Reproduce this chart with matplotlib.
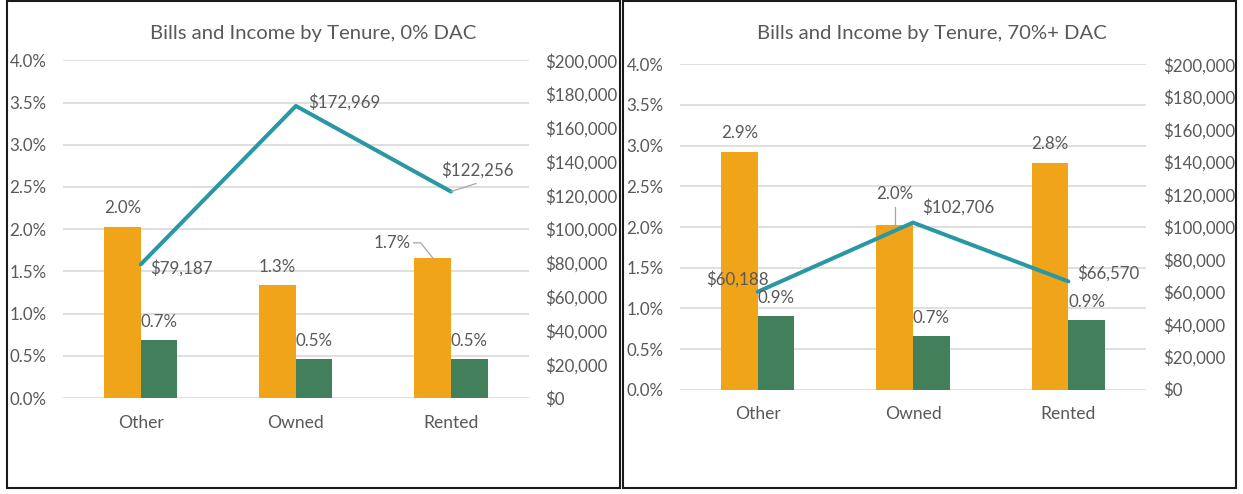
import matplotlib.pyplot as plt
from matplotlib.patches import Rectangle
from matplotlib.transforms import IdentityTransform
import numpy as np

plt.rcParams['font.family'] = ['Lato', 'DejaVu Sans']

categories = ['Other', 'Owned', 'Rented']

# 0% DAC panel
bills_0 = [2.03, 1.34, 1.66]        # orange bars (%)
share_0 = [0.69, 0.46, 0.46]        # green bars (%)
income_0 = [79187, 172969, 122256]  # line (right axis, $)

# 70%+ DAC panel
bills_70 = [2.92, 2.02, 2.79]
share_70 = [0.90, 0.66, 0.86]
income_70 = [60188, 102706, 66570]

ORANGE = '#EFA41A'
GREEN = '#41805B'
TEAL = '#2A97A4'
TEXT = '#595959'
GRID = '#D9D9D9'
LEAD = '#A6A6A6'
FS = 12.2

W, H = 1243, 494
fig = plt.figure(figsize=(W / 100, H / 100), dpi=100)


def px_rect(x0, y_top, x1, y_bot):
    # pixel box -> figure fraction
    return [x0 / W, (H - y_bot) / H, (x1 - x0) / W, (y_bot - y_top) / H]


def leader(ax, anchor, offsets):
    # thin gray leader line, vertices given as pixel offsets from a data point
    px, py = ax.transData.transform(anchor)
    xs = [px + dx for dx, dy in offsets]
    ys = [py + dy for dx, dy in offsets]
    fig.add_artist(plt.Line2D(xs, ys, transform=IdentityTransform(), color=LEAD, lw=0.9))


def draw_panel(rect, title, title_x, orange, green, income, bill_moves, inc_moves):
    ax = fig.add_axes(rect)
    x = np.arange(len(categories))
    w = 0.236
    ax.bar(x - w / 2, orange, w, color=ORANGE, zorder=2)
    ax.bar(x + w / 2, green, w, color=GREEN, zorder=2)
    ax.set_xlim(-0.5, 2.5)
    ax.set_ylim(0, 4)
    ax.set_yticks(np.arange(0, 4.01, 0.5))
    ax.yaxis.set_major_formatter(lambda v, p: f'{v:.1f}%')
    ax.set_xticks(x, categories)
    ax.grid(axis='y', color=GRID, lw=1.2)
    ax.set_axisbelow(True)
    for s in ax.spines.values():
        s.set_visible(False)
    ax.tick_params(axis='y', length=0, colors=TEXT, labelsize=FS, pad=12)
    ax.tick_params(axis='x', length=0, colors=TEXT, labelsize=12.6, pad=12)

    ax2 = ax.twinx()
    ax2.plot(x, income, color=TEAL, lw=2.9, solid_capstyle='round', zorder=3)
    ax2.set_ylim(0, 200000)
    ax2.set_yticks(np.arange(0, 200001, 20000))
    ax2.yaxis.set_major_formatter(lambda v, p: f'${v:,.0f}')
    for s in ax2.spines.values():
        s.set_visible(False)
    ax2.tick_params(axis='y', length=0, colors=TEXT, labelsize=FS, pad=12)

    # data labels (offsets in pixels)
    for i, v in enumerate(orange):
        dx, dy, lead = bill_moves[i]
        ax2.annotate(f'{v:.1f}%', xy=(x[i] - w / 2, v), xycoords=ax.transData,
                     xytext=(dx, dy), textcoords='offset pixels',
                     ha='center', va='center', fontsize=FS, color=TEXT)
        if lead is not None:
            leader(ax, (x[i] - w / 2, v), lead)
    for i, v in enumerate(green):
        ax2.annotate(f'{v:.1f}%', xy=(x[i] + w / 2, v), xycoords=ax.transData,
                     xytext=(0, 18), textcoords='offset pixels',
                     ha='center', va='center', fontsize=FS, color=TEXT)
    for i, v in enumerate(income):
        dx, dy, ha, lead = inc_moves[i]
        ax2.annotate(f'${v:,}', xy=(x[i], v), xytext=(dx, dy),
                     textcoords='offset pixels', ha=ha, va='center',
                     fontsize=FS, color=TEXT)
        if lead is not None:
            leader(ax2, (x[i], v), lead)

    fig.text(title_x / W, 1 - 33 / H, title, ha='center', va='center',
             fontsize=14.6, color=TEXT)


draw_panel(px_rect(63.3, 60.3, 528.5, 398), 'Bills and Income by Tenure, 0% DAC', 313,
           bills_0, share_0, income_0,
           [(0, 19, None), (0, 18, None), (-41, 15, [(-19, 15), (-12, 15), (0, 0)])],
           [(9, -4, 'left', None), (12, 4, 'left', None), (-10, 21, 'left', [(0, 0), (25, 8)])])

draw_panel(px_rect(680, 64.3, 1146, 389.7), 'Bills and Income by Tenure, 70%+ DAC', 932,
           bills_70, share_70, income_70,
           [(0, 19, None), (0, 31, [(0, 18), (0, 0)]), (0, 19, None)],
           [(-20, 13, 'center', None), (9, 15, 'left', None), (9, 8, 'left', None)])

# panel borders
fig.patches.append(Rectangle((6.7 / W, 6 / H), (620 - 6.7) / W, (493 - 5.3 - 1) / H,
                             transform=fig.transFigure, fill=False, ec='#1A1A1A', lw=1.5))
fig.patches.append(Rectangle((622.7 / W, 6 / H), (1236 - 622.7) / W, (493 - 5.3 - 1) / H,
                             transform=fig.transFigure, fill=False, ec='#1A1A1A', lw=1.5))

fig.savefig('out.png', dpi=100)
